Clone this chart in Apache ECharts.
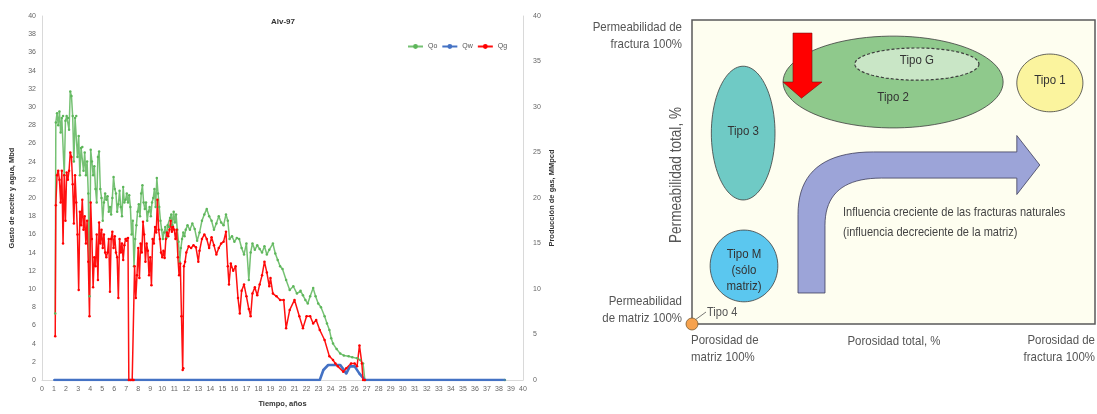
<!DOCTYPE html>
<html><head><meta charset="utf-8">
<script src="https://cdn.jsdelivr.net/npm/echarts@6/dist/echarts.min.js"></script>
<style>html,body{margin:0;padding:0;background:#fff}#c{width:1097px;height:414px}</style>
</head><body><div id="c"></div>
<script>
// ---------- Left chart data (Alv-97) ----------
const chartTitle = 'Alv-97';
const seriesNames = ['Qo', 'Qw', 'Qg'];
const qoTime = [1.10,1.15,1.25,1.35,1.45,1.55,1.65,1.75,1.85,1.95,2.05,2.15,2.25,2.35,2.45,2.55,2.65,2.75,2.85,2.95,3.05,3.15,3.25,3.35,3.45,3.55,3.65,3.75,3.85,3.95,4.05,4.15,4.25,4.35,4.45,4.55,4.65,4.75,4.85,4.95,5.05,5.15,5.25,5.35,5.45,5.55,5.65,5.75,5.85,5.95,6.05,6.15,6.25,6.35,6.45,6.55,6.65,6.75,6.85,6.95,7.05,7.15,7.25,7.35,7.45,7.55,7.65,7.75,7.85,7.95,8.05,8.15,8.25,8.35,8.45,8.55,8.65,8.75,8.85,8.95,9.05,9.15,9.25,9.35,9.45,9.55,9.65,9.75,9.85,9.95,10.05,10.15,10.25,10.35,10.45,10.55,10.65,10.75,10.85,10.95,11.05,11.15,11.25,11.35,11.45,11.55,11.65,11.75,11.85,11.95,12.1,12.3,12.5,12.7,12.9,13.1,13.3,13.5,13.7,13.9,14.1,14.3,14.5,14.7,14.9,15.1,15.3,15.45,15.6,15.8,16.0,16.2,16.4,16.6,16.8,17.0,17.2,17.35,17.5,17.7,17.9,18.1,18.3,18.5,18.7,18.9,19.2,19.4,19.6,19.8,20.0,20.3,20.6,20.9,21.2,21.5,21.7,21.9,22.1,22.3,22.55,22.75,22.97,23.2,23.5,23.7,23.9,24.05,24.2,24.5,24.8,25.1,25.5,25.8,26.2,26.45,26.7,26.85,38.5];
const qoRate = [7.3,28.3,29.3,28.0,29.5,27.2,28.8,29.0,22.5,28.5,29.0,28.8,27.5,31.7,31.2,29.0,24.0,28.8,29.0,24.5,26.8,22.5,25.5,25.6,23.0,25.0,22.5,24.0,20.5,9.2,25.3,24.0,22.5,23.5,21.0,19.5,24.5,25.1,21.0,20.0,17.5,19.5,20.5,19.8,20.2,18.5,19.0,18.2,20.0,22.3,21.0,20.5,18.5,19.3,20.8,19.0,18.0,21.2,19.5,19.8,20.5,19.5,20.3,19.0,16.0,17.5,12.5,15.5,17.0,18.5,19.3,18.0,20.5,21.4,19.5,18.8,19.5,17.5,18.5,19.0,18.0,19.5,20.0,21.0,19.0,22.2,20.5,19.0,17.5,16.5,15.5,16.2,16.8,15.6,17.0,16.8,17.8,18.2,17.0,18.5,17.3,18.2,16.5,15.2,13.0,14.5,15.5,16.2,15.8,16.5,17.0,16.5,17.2,16.6,15.3,16.2,17.5,18.2,18.8,18.0,17.5,16.5,17.2,18.0,17.3,17.0,18.2,17.5,15.5,15.8,15.2,15.6,15.5,14.5,13.8,15.0,11.0,14.0,15.0,14.3,14.8,14.4,14.0,14.7,13.8,14.3,15.0,13.9,13.2,12.5,12.2,11.0,9.9,10.3,9.5,9.8,9.3,8.8,8.4,9.2,10.1,9.2,8.4,8.0,7.0,6.2,5.5,4.6,4.0,3.4,2.9,2.7,2.6,2.5,2.4,2.2,1.8,0,0];
const qwTime = [1.0,23.1,23.4,23.8,24.8,25.05,25.3,25.6,26.0,26.4,26.85,38.5];
const qwRate = [0,0,1.1,1.65,1.65,1.2,0.7,1.5,1.5,0.7,0,0];
const qgTime = [1.10,1.15,1.25,1.35,1.45,1.55,1.65,1.75,1.85,1.95,2.05,2.15,2.25,2.35,2.45,2.55,2.65,2.75,2.85,2.95,3.05,3.15,3.25,3.35,3.45,3.55,3.65,3.75,3.85,3.95,4.05,4.15,4.25,4.35,4.45,4.55,4.65,4.75,4.85,4.95,5.05,5.15,5.25,5.35,5.45,5.55,5.65,5.75,5.85,5.95,6.05,6.15,6.25,6.35,6.45,6.55,6.65,6.75,6.85,6.95,7.05,7.15,7.22,7.35,7.5,7.62,7.70,7.80,7.90,8.0,8.1,8.2,8.3,8.4,8.5,8.6,8.7,8.8,8.9,9.0,9.1,9.2,9.3,9.4,9.5,9.6,9.7,9.8,9.9,10.0,10.1,10.2,10.3,10.4,10.5,10.6,10.7,10.8,10.9,11.0,11.1,11.2,11.3,11.4,11.5,11.6,11.7,11.75,11.8,11.9,12.0,12.2,12.4,12.6,12.8,13.0,13.1,13.3,13.5,13.7,13.9,14.1,14.3,14.5,14.7,14.9,15.1,15.3,15.45,15.55,15.7,15.9,16.1,16.3,16.45,16.6,16.8,17.0,17.2,17.35,17.5,17.7,17.9,18.1,18.3,18.5,18.7,18.9,19.0,19.2,19.5,19.8,20.1,20.3,20.6,21.0,21.4,21.7,22.0,22.3,22.55,22.8,23.1,23.5,23.9,24.2,24.4,24.6,25.05,25.3,25.7,26.0,26.2,26.4,26.6,26.7,26.85,38.5];
const qgRate = [4.8,19.2,22.5,23.0,22.0,19.5,23.0,15.0,22.5,17.5,22.8,22.0,23.0,25.0,24.5,21.5,17.2,22.5,19.5,16.0,9.9,18.5,17.0,19.8,16.5,18.0,15.0,17.5,13.0,7.0,19.5,15.5,10.2,13.5,12.5,16.0,11.0,17.3,15.0,16.5,14.5,16.0,14.0,13.5,14.0,15.5,9.7,15.5,16.3,14.5,15.8,14.0,13.5,9.0,15.5,14.0,15.0,13.2,14.8,15.5,15.3,15.6,0,0,0,0,12.5,9.0,11.5,14.5,11.2,15.0,14.0,17.4,16.0,13.0,15.0,14.2,11.5,13.5,10.4,15.5,15.0,16.8,16.2,19.8,16.5,15.5,14.0,13.5,14.2,13.4,15.5,16.2,15.8,16.5,17.5,16.3,16.8,16.5,15.5,16.5,13.5,11.5,12.8,7.0,1.1,1.3,12.5,13.0,14.0,14.7,14.5,14.8,14.6,13.0,14.2,15.5,16.0,15.5,14.5,15.7,14.8,13.8,14.5,15.0,15.2,16.3,12.5,10.5,12.8,12.0,12.5,9.0,7.3,9.8,10.5,9.2,7.8,7.0,9.5,10.2,9.3,10.5,11.5,13.0,11.8,10.3,11.2,9.5,9.2,8.8,8.8,5.7,7.7,8.8,7.0,5.7,7.0,7.0,6.2,6.6,5.5,4.4,2.6,2.2,1.8,1.5,0.9,1.3,1.8,1.8,1.5,3.8,1.8,0,0];
const leftAxisTicks = {min: 0, max: 40, step: 2};
const rightAxisTicks = {min: 0, max: 40, step: 5};
const timeTicks = {min: 0, max: 40, step: 1};

// ---------- Right diagram data ----------
const typeNames = ['Tipo 2', 'Tipo G', 'Tipo 1', 'Tipo 3', 'Tipo M\n(sólo\nmatriz)'];
const typePorosity = [49.9, 55.8, 88.8, 12.7, 12.9];      // centre, % of axis
const typePermeability = [79.6, 85.5, 79.3, 62.8, 19.1];  // centre, % of axis
const typeSpreadPorosity = [27.3, 15.4, 8.2, 7.9, 8.4];
const typeSpreadPermeability = [15.1, 5.3, 9.5, 22.0, 11.8];
const typeLabelPermeability = [74.6, 86.6, 80.2, 63.4, 17.6];
const tipo4Point = [0, 0];
const redArrowPorosity = [25.06, 29.78, 29.78, 32.26, 27.17, 22.58, 25.06];
const redArrowPermeability = [95.7, 95.7, 79.6, 79.6, 74.3, 79.6, 79.6];

const typeColors = ['#8fc98c', '#c9e6c6', '#fbf49e', '#6fcac5', '#5bc7ef'];

const narrow = "'Liberation Sans',sans-serif";

function pairs(t, v) { return t.map((x, i) => [x, v[i]]); }

function ellipsePoints(c, s) {
  const pts = [];
  for (let k = 0; k < 90; k++) {
    const a = k / 90 * Math.PI * 2;
    pts.push([c[0] + s[0] * Math.cos(a), c[1] + s[1] * Math.sin(a)]);
  }
  return pts;
}

function renderTypes(params, api) {
  const i = api.value(0);
  const c = api.coord([typePorosity[i], typePermeability[i]]);
  const s = api.size([typeSpreadPorosity[i], typeSpreadPermeability[i]]);
  const lc = api.coord([typePorosity[i], typeLabelPermeability[i]]);
  const dashed = i === 1;
  return {
    type: 'group',
    children: [
      {type: 'polygon', shape: {points: ellipsePoints(c, s)},
       style: {fill: typeColors[i], stroke: '#3d3d3d', lineWidth: dashed ? 1.2 : 0.8, lineDash: dashed ? [3, 2] : null}},
      {type: 'text', x: lc[0], y: lc[1], scaleX: 0.85,
       style: {text: typeNames[i], x: 0, y: 0, textAlign: 'center', textVerticalAlign: 'middle',
        font: '13.5px ' + narrow, fill: '#333', lineHeight: 16}}
    ]
  };
}

function renderRedArrow(params, api) {
  const pts = redArrowPorosity.map((x, i) => api.coord([x, redArrowPermeability[i]]));
  return {type: 'polygon', shape: {points: pts}, style: {fill: '#ff0000', stroke: '#7a1010', lineWidth: 0.6}};
}

function quad(p0, p1, p2, n) {
  const out = [];
  for (let k = 0; k <= n; k++) {
    const t = k / n;
    out.push([(1-t)*(1-t)*p0[0] + 2*(1-t)*t*p1[0] + t*t*p2[0], (1-t)*(1-t)*p0[1] + 2*(1-t)*t*p1[1] + t*t*p2[1]]);
  }
  return out;
}

function renderPurpleArrow(params, api) {
  const P = (x, y) => api.coord([x, y]);
  let pts = [];
  pts.push(P(26.3, 10.2));
  pts = pts.concat(quad(P(26.3, 36.0), P(26.3, 56.6), P(45.0, 56.6), 20));
  pts.push(P(80.6, 56.6), P(80.6, 62.0), P(86.3, 52.3), P(80.6, 42.6), P(80.6, 48.0));
  pts = pts.concat(quad(P(47.0, 48.0), P(33.0, 48.0), P(33.0, 32.5), 20));
  pts.push(P(33.0, 10.2));
  return {type: 'polygon', shape: {points: pts}, style: {fill: '#9ca4d8', stroke: '#3d3d5a', lineWidth: 0.8}};
}

function renderTipo4(params, api) {
  const c = api.coord(tipo4Point);
  return {type: 'group', children: [
    {type: 'line', shape: {x1: c[0] + 3, y1: c[1] - 4, x2: c[0] + 14, y2: c[1] - 12}, style: {stroke: '#555', lineWidth: 0.8}},
    {type: 'circle', shape: {cx: c[0], cy: c[1], r: 6}, style: {fill: '#f6a24e', stroke: '#7a5a30', lineWidth: 0.8}},
    {type: 'text', x: c[0] + 15, y: c[1] - 12, scaleX: 0.85,
     style: {text: 'Tipo 4', x: 0, y: 0, textVerticalAlign: 'middle', font: '13px ' + narrow, fill: '#555'}}
  ]};
}

const chart = echarts.init(document.getElementById('c'), null, {renderer: 'canvas'});
const axisLabelStyle = {fontSize: 7, color: '#666', fontFamily: 'Liberation Sans'};
const lightLine = {show: true, lineStyle: {color: '#d9d9d9', width: 1}};

function gtext(text, x, y, align, opts) {
  opts = opts || {};
  return {type: 'text', x: x, y: y, rotation: opts.rotation || 0, scaleX: 0.85,
    style: {text: text, x: 0, y: 0, textAlign: align, textVerticalAlign: 'middle',
      font: (opts.size || 13.5) + 'px ' + narrow, fill: opts.fill || '#555', lineHeight: opts.lh || 17}};
}

chart.setOption({
  animation: false,
  backgroundColor: '#fff',
  title: {text: chartTitle, left: 266, top: 13, textStyle: {fontSize: 8, fontWeight: 'bold', color: '#333', fontFamily: 'Liberation Sans'}},
  legend: {data: seriesNames, left: 402, top: 38, itemWidth: 15, itemHeight: 6, itemGap: 4,
    textStyle: {fontSize: 7, color: '#555', fontFamily: 'Liberation Sans'}},
  grid: [
    {left: 42, top: 16, width: 481, height: 364},
    {left: 692, top: 20, width: 403, height: 304, show: true, backgroundColor: '#fefef0', borderColor: '#5a5a5a', borderWidth: 1.5}
  ],
  xAxis: [
    {gridIndex: 0, type: 'value', min: timeTicks.min, max: timeTicks.max, interval: timeTicks.step,
     axisLine: lightLine, axisTick: {show: false}, splitLine: {show: false},
     axisLabel: Object.assign({margin: 6}, axisLabelStyle),
     name: 'Tiempo, años', nameLocation: 'middle', nameGap: 20,
     nameTextStyle: {fontSize: 7.5, fontWeight: 'bold', color: '#333', fontFamily: 'Liberation Sans'}},
    {gridIndex: 1, type: 'value', min: 0, max: 100, show: false}
  ],
  yAxis: [
    {gridIndex: 0, type: 'value', min: leftAxisTicks.min, max: leftAxisTicks.max, interval: leftAxisTicks.step,
     axisLine: lightLine, axisTick: {show: false}, splitLine: {show: false},
     axisLabel: Object.assign({margin: 6}, axisLabelStyle),
     name: 'Gasto de aceite y agua, Mbd', nameLocation: 'middle', nameGap: 26, nameRotate: 90,
     nameTextStyle: {fontSize: 7.5, fontWeight: 'bold', color: '#333', fontFamily: 'Liberation Sans'}},
    {gridIndex: 0, type: 'value', position: 'right', min: rightAxisTicks.min, max: rightAxisTicks.max, interval: rightAxisTicks.step,
     axisLine: lightLine, axisTick: {show: false}, splitLine: {show: false},
     axisLabel: Object.assign({margin: 10}, axisLabelStyle),
     name: 'Producción de gas, MMpcd', nameLocation: 'middle', nameGap: 25, nameRotate: 90,
     nameTextStyle: {fontSize: 7.5, fontWeight: 'bold', color: '#333', fontFamily: 'Liberation Sans'}},
    {gridIndex: 1, type: 'value', min: 0, max: 100, show: false}
  ],
  series: [
    {name: 'Qo', type: 'line', xAxisIndex: 0, yAxisIndex: 0, data: pairs(qoTime, qoRate),
     symbol: 'circle', symbolSize: 2.5, color: '#5db65a', lineStyle: {width: 1.5, color: 'rgba(93,182,90,0.85)'}, itemStyle: {color: '#5db65a'}},
    {name: 'Qw', type: 'line', xAxisIndex: 0, yAxisIndex: 0, data: pairs(qwTime, qwRate),
     symbol: 'circle', symbolSize: 2, color: '#4472c4', lineStyle: {width: 2.6, color: '#4472c4'}, itemStyle: {color: '#4472c4'}},
    {name: 'Qg', type: 'line', xAxisIndex: 0, yAxisIndex: 1, data: pairs(qgTime, qgRate),
     symbol: 'circle', symbolSize: 2.5, color: '#ff0000', lineStyle: {width: 1.5, color: '#ff1010'}, itemStyle: {color: '#ff0000'}},
    {type: 'custom', xAxisIndex: 1, yAxisIndex: 2, renderItem: renderPurpleArrow, data: [[0]], clip: false, silent: true},
    {type: 'custom', xAxisIndex: 1, yAxisIndex: 2, renderItem: renderTypes, data: typeNames.map((n, i) => [i]), clip: false, silent: true},
    {type: 'custom', xAxisIndex: 1, yAxisIndex: 2, renderItem: renderRedArrow, data: [[0]], clip: false, silent: true},
    {type: 'custom', xAxisIndex: 1, yAxisIndex: 2, renderItem: renderTipo4, data: [[0]], clip: false, silent: true, z: 5}
  ],
  graphic: [
    gtext('Permeabilidad de\nfractura 100%', 682, 36, 'right'),
    gtext('Permeabilidad\nde matriz 100%', 682, 310, 'right'),
    gtext('Permeabilidad total, %', 677, 175, 'center', {rotation: Math.PI / 2, size: 16}),
    gtext('Porosidad de\nmatriz 100%', 691, 349, 'left'),
    gtext('Porosidad total, %', 894, 341, 'center'),
    gtext('Porosidad de\nfractura 100%', 1095, 349, 'right'),
    gtext('Influencia creciente de las fracturas naturales\n(influencia decreciente de la matriz)', 843, 222, 'left', {size: 13, fill: '#444', lh: 20})
  ]
});
</script>
</body></html>
